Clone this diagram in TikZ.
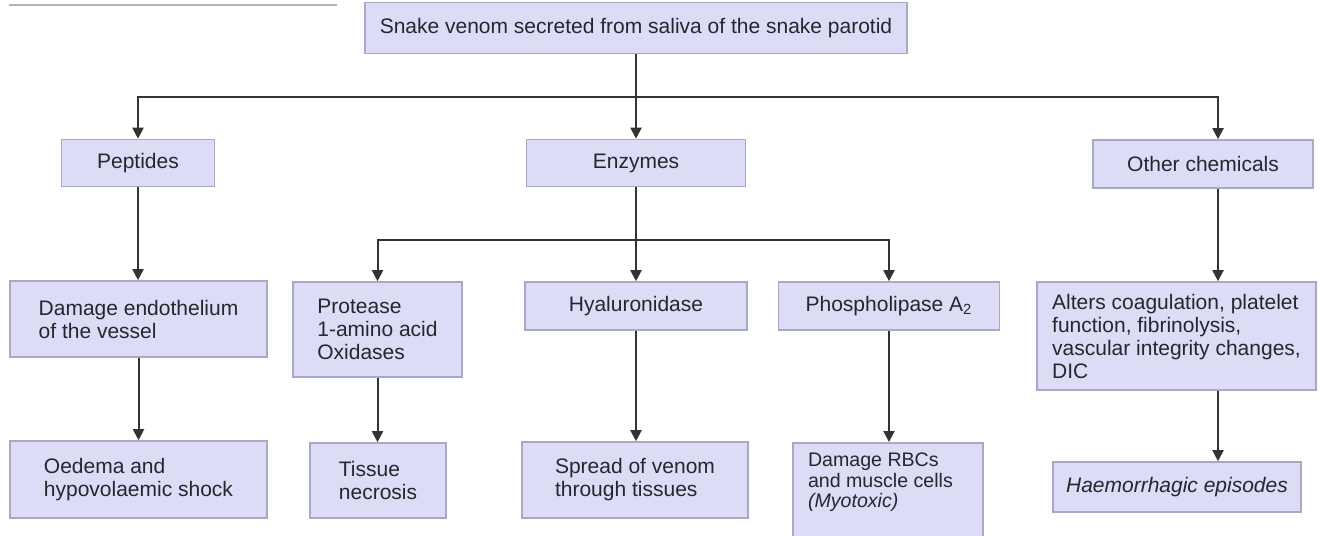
\documentclass[tikz,border=0pt]{standalone}
\usepackage{fontspec}
\setmainfont{Liberation Sans}
\usepackage{tikz}
\usetikzlibrary{arrows.meta}
\definecolor{lavx}{HTML}{DDDCF7}
\definecolor{edgex}{HTML}{A9A8C6}
\definecolor{linex}{HTML}{333333}
\definecolor{inkx}{HTML}{26262E}
\tikzset{
  bx/.style={draw=edgex,line width=0.8pt,fill=lavx,inner sep=0pt,text=inkx,font=\fontsize{10.5}{11.5}\selectfont},
  ml/.style={bx,align=left},
  ar/.style={-{Triangle[length=5.5pt,width=5.5pt]},line width=1pt,linex},
  arr/.style={{Triangle[length=5.5pt,width=5.5pt]}-{Triangle[length=5.5pt,width=5.5pt]},line width=1pt,linex,line join=miter}
}

\begin{document}
\begin{tikzpicture}[x=0.5pt,y=-0.5pt]
\useasboundingbox (0,0) rectangle (1320,535);
\draw[gray!60,line width=1.2pt] (9,5) -- (337,5);
% top level
\node[bx,minimum width=271pt,minimum height=25.5pt] (venom) at (636,28) {Snake venom secreted from saliva of the snake parotid};
\node[bx,minimum width=76.5pt,minimum height=23.5pt] (pept) at (138,163) {Peptides};
\node[bx,minimum width=109.5pt,minimum height=23.5pt] (enz) at (636,163) {Enzymes};
\node[bx,minimum width=110pt,minimum height=24pt] (other) at (1203,164) {Other chemicals};
% second level
\node[ml,minimum width=128.5pt,minimum height=38pt] (endo) at (138.5,319) {Damage endothelium\\of the vessel};
\node[ml,minimum width=84.5pt,minimum height=47.5pt] (prot) at (377.5,329.5) {Protease\\1-amino acid\\Oxidases};
\node[bx,minimum width=111pt,minimum height=24pt] (hyal) at (636,306) {Hyaluronidase};
\node[bx,minimum width=110.5pt,minimum height=24pt] (phos) at (889,306) {Phospholipase A\textsubscript{2}};
\node[ml,minimum width=139.5pt,minimum height=54pt] (alt) at (1176.5,336) {Alters coagulation, platelet\\function, fibrinolysis,\\vascular integrity changes,\\DIC};
% third level
\node[ml,minimum width=128.5pt,minimum height=38.5pt] (oed) at (138.5,479.5) {Oedema and\\hypovolaemic shock};
\node[ml,minimum width=68pt,minimum height=37.5pt] (necr) at (378,480.5) {Tissue\\necrosis};
\node[ml,minimum width=113pt,minimum height=38pt] (spread) at (635,480) {Spread of venom\\through tissues};
\node[bx,anchor=north,inner xsep=7.5pt,inner ysep=5pt,font=\fontsize{9.8}{10.3}\selectfont] (rbc) at (888,442)
  {\parbox[t][46pt][t]{80pt}{\raggedright Damage RBCs\\and muscle cells\\\textit{(Myotoxic)}}};
\node[bx,minimum width=124pt,minimum height=25pt] (haem) at (1177,487) {\itshape Haemorrhagic episodes};
% connectors
\coordinate (bus) at (0,97);
\coordinate (bus2) at (0,240);
\coordinate (rcol) at (1218,0);
\draw[ar] (venom.south) -- (enz.north);
\draw[arr] (pept.north) -- (pept.north |- bus) -- (rcol |- bus) -- (rcol |- other.north);
\draw[ar] (pept.south) -- (pept.south |- endo.north);
\draw[ar] (endo.south) -- (endo.south |- oed.north);
\draw[ar] (enz.south) -- (hyal.north);
\draw[arr] (prot.north) -- (prot.north |- bus2) -- (phos.north |- bus2) -- (phos.north);
\draw[ar] (prot.south) -- (prot.south |- necr.north);
\draw[ar] (hyal.south) -- (hyal.south |- spread.north);
\draw[ar] (phos.south) -- (phos.south |- rbc.north);
\draw[ar] (rcol |- other.south) -- (rcol |- alt.north);
\draw[ar] (rcol |- alt.south) -- (rcol |- haem.north);
\end{tikzpicture}
\end{document}
